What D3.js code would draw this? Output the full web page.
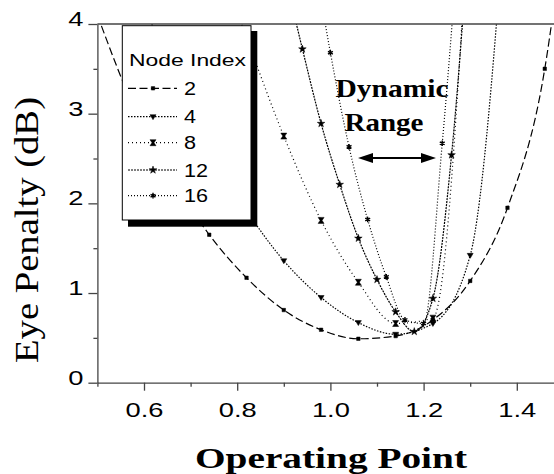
<!DOCTYPE html>
<html>
<head>
<meta charset="utf-8">
<script src="https://cdn.jsdelivr.net/npm/d3@7"></script>
<style>
  body { margin: 0; background: #fff; }
  svg { display: block; }
</style>
</head>
<body>
<script>
// operating point samples and eye penalty (dB), one pair of arrays per node index
const x2 = [0.50, 0.58, 0.66, 0.74, 0.82, 0.90, 0.98, 1.06, 1.14, 1.22, 1.30, 1.38, 1.46, 1.54];
const node2 = [4.1, 3.05, 2.28, 1.65, 1.17, 0.81, 0.59, 0.49, 0.52, 0.70, 1.135, 1.95, 3.5, 7.0];
const x4 = [0.58, 0.66, 0.74, 0.82, 0.90, 0.98, 1.06, 1.14, 1.22, 1.30, 1.38];
const node4 = [4.5, 3.45, 2.6, 1.92, 1.36, 0.95, 0.67, 0.54, 0.66, 1.42, 5.6];
const x8 = [0.74, 0.82, 0.90, 0.98, 1.06, 1.14, 1.22, 1.30];
const node8 = [5.0, 3.85, 2.75, 1.81, 1.12, 0.66, 0.72, 5.6];
const x12 = [0.90, 0.94, 0.98, 1.02, 1.06, 1.10, 1.14, 1.18, 1.22, 1.26, 1.30];
const node12 = [4.6, 3.72, 2.89, 2.21, 1.61, 1.15, 0.79, 0.57, 0.94, 2.54, 5.2];
const x16 = [0.96, 1.00, 1.04, 1.08, 1.12, 1.16, 1.20, 1.24, 1.28];
const node16 = [4.9, 3.68, 2.63, 1.82, 1.18, 0.70, 0.66, 2.67, 5.3];

const nodeNames = ["2", "4", "8", "12", "16"];
const xTicks = [0.6, 0.8, 1.0, 1.2, 1.4];
const yTicks = [0, 1, 2, 3, 4];

const w = 554, h = 474;
const padLeft = 97.4, padTop = 24, padBottom = 382.7;

const x = d3.scaleLinear().domain([0.5, 1.5]).range([padLeft, padLeft + 466]);
const y = d3.scaleLinear().domain([0, 4]).range([padBottom, padTop]);

const svg = d3.select("body").append("svg")
  .attr("width", w)
  .attr("height", h);

// stretch text wider, the picture is a bit squashed
function stretch(sel, k) {
  sel.each(function() {
    const len = this.getComputedTextLength();
    d3.select(this).attr("textLength", len * k).attr("lengthAdjust", "spacingAndGlyphs");
  });
}

svg.append("clipPath").attr("id", "plot")
  .append("rect")
  .attr("x", padLeft).attr("y", padTop)
  .attr("width", w - padLeft).attr("height", padBottom - padTop);

// series styles
const series = [
  {xs: x2, ys: node2, dash: "8,3.5", mark: "square"},
  {xs: x4, ys: node4, dash: "1.5,1.5", mark: "tri"},
  {xs: x8, ys: node8, dash: "1,3", mark: "hour"},
  {xs: x12, ys: node12, dash: "2,1", mark: "star"},
  {xs: x16, ys: node16, dash: "1,2", mark: "aster"}
];

function markerPath(kind) {
  if (kind === "square") return d3.symbol(d3.symbolSquare, 12)();
  if (kind === "tri") return "M-3,-2L3,-2L0,3Z";
  if (kind === "hour") return "M-3,-3L3,-3L1,0L3,3L-3,3L-1,0Z";
  if (kind === "star") return d3.symbol(d3.symbolStar, 18)();
  return d3.symbol(d3.symbolAsterisk, 22)();
}

const line = d3.line()
  .x(d => x(d[0]))
  .y(d => y(d[1]))
  .curve(d3.curveMonotoneX);

const plot = svg.append("g").attr("clip-path", "url(#plot)");

series.forEach(s => {
  const pts = s.xs.map((v, i) => [v, s.ys[i]]);
  plot.append("path")
    .attr("d", line(pts))
    .attr("fill", "none")
    .attr("stroke", "#000")
    .attr("stroke-width", 1.2)
    .attr("stroke-dasharray", s.dash);
  plot.selectAll(null)
    .data(pts)
    .enter()
    .append("path")
    .attr("transform", d => "translate(" + x(d[0]) + "," + y(d[1]) + ")")
    .attr("d", markerPath(s.mark))
    .attr("fill", "#000")
    .attr("stroke", "#000")
    .attr("stroke-width", s.mark === "aster" ? 1.4 : 0.5);
});

// axes
const xAxis = d3.axisBottom(x)
  .tickValues(xTicks)
  .tickFormat(d3.format(".1f"))
  .tickSize(8)
  .tickSizeOuter(0)
  .tickPadding(11);
const xMinor = d3.axisBottom(x)
  .tickValues([0.5, 0.7, 0.9, 1.1, 1.3, 1.5])
  .tickFormat("")
  .tickSize(4)
  .tickSizeOuter(0);
const yAxis = d3.axisLeft(y)
  .tickValues(yTicks)
  .tickFormat(d3.format("d"))
  .tickSize(9)
  .tickSizeOuter(0)
  .tickPadding(5);
const yMinor = d3.axisLeft(y)
  .tickValues([0.5, 1.5, 2.5, 3.5])
  .tickFormat("")
  .tickSize(4)
  .tickSizeOuter(0);

const gx = svg.append("g").attr("transform", "translate(0," + padBottom + ")").call(xAxis);
svg.append("g").attr("transform", "translate(0," + padBottom + ")").call(xMinor)
  .select(".domain").remove();
const gy = svg.append("g").attr("transform", "translate(" + padLeft + ",0)").call(yAxis);
svg.append("g").attr("transform", "translate(" + padLeft + ",0)").call(yMinor)
  .select(".domain").remove();

svg.selectAll(".domain, .tick line").attr("stroke", "#444").attr("stroke-width", 1.3);

gx.selectAll("text")
  .attr("font-family", "Liberation Sans, Arial, sans-serif")
  .attr("font-size", 21)
  .attr("fill", "#000")
  .call(stretch, 1.3);
gy.selectAll("text")
  .attr("font-family", "Liberation Sans, Arial, sans-serif")
  .attr("font-size", 21)
  .attr("fill", "#000")
  .attr("dy", "0.07em")
  .call(stretch, 1.3);

// top frame line
svg.append("line")
  .attr("x1", padLeft).attr("x2", w)
  .attr("y1", padTop).attr("y2", padTop)
  .attr("stroke", "#444")
  .attr("stroke-width", 1.3);

// axis titles
svg.append("text")
  .attr("x", 331)
  .attr("y", 468)
  .attr("text-anchor", "middle")
  .attr("font-family", "Liberation Serif, Times New Roman, serif")
  .attr("font-weight", "bold")
  .attr("font-size", 29)
  .attr("textLength", 272)
  .attr("lengthAdjust", "spacingAndGlyphs")
  .text("Operating Point");

svg.append("text")
  .attr("transform", "translate(38,230) rotate(-90)")
  .attr("text-anchor", "middle")
  .attr("font-family", "Liberation Serif, Times New Roman, serif")
  .attr("font-size", 34)
  .attr("textLength", 266)
  .attr("lengthAdjust", "spacingAndGlyphs")
  .text("Eye Penalty (dB)");

// dynamic range note
svg.append("text")
  .attr("x", 392).attr("y", 97)
  .attr("text-anchor", "middle")
  .attr("font-family", "Liberation Serif, Times New Roman, serif")
  .attr("font-weight", "bold")
  .attr("font-size", 26)
  .attr("textLength", 113)
  .attr("lengthAdjust", "spacingAndGlyphs")
  .text("Dynamic");
svg.append("text")
  .attr("x", 384).attr("y", 130.5)
  .attr("text-anchor", "middle")
  .attr("font-family", "Liberation Serif, Times New Roman, serif")
  .attr("font-weight", "bold")
  .attr("font-size", 26)
  .attr("textLength", 79)
  .attr("lengthAdjust", "spacingAndGlyphs")
  .text("Range");

svg.append("line")
  .attr("x1", 366).attr("x2", 428)
  .attr("y1", 158).attr("y2", 158)
  .attr("stroke", "#000")
  .attr("stroke-width", 2);
svg.append("path")
  .attr("d", "M358,158L373,153L373,163Z M436,158L421,153L421,163Z")
  .attr("fill", "#000");

// legend
svg.append("rect")
  .attr("x", 128).attr("y", 31)
  .attr("width", 129.3).attr("height", 195.7)
  .attr("fill", "#000");
svg.append("rect")
  .attr("x", 122.3).attr("y", 25.7)
  .attr("width", 128.7).attr("height", 194.3)
  .attr("fill", "#fff")
  .attr("stroke", "#000")
  .attr("stroke-width", 1);

svg.append("text")
  .attr("x", 129).attr("y", 65.7)
  .attr("font-family", "Liberation Sans, Arial, sans-serif")
  .attr("font-size", 17)
  .attr("textLength", 117)
  .attr("lengthAdjust", "spacingAndGlyphs")
  .text("Node Index");

const rowY = [88.3, 116.7, 142.7, 170, 195.7];
series.forEach((s, i) => {
  const g = svg.append("g").attr("transform", "translate(0," + rowY[i] + ")");
  g.append("line")
    .attr("x1", 128).attr("x2", 177)
    .attr("stroke", "#000")
    .attr("stroke-width", 1.2)
    .attr("stroke-dasharray", s.dash);
  g.append("path")
    .attr("transform", "translate(153,0)")
    .attr("d", markerPath(s.mark))
    .attr("fill", "#000")
    .attr("stroke", "#000")
    .attr("stroke-width", s.mark === "aster" ? 1.4 : 0.5);
  g.append("text")
    .attr("x", 184).attr("y", 6.5)
    .attr("font-family", "Liberation Sans, Arial, sans-serif")
    .attr("font-size", 18)
    .text(nodeNames[i])
    .call(stretch, 1.2);
});
</script>
</body>
</html>
